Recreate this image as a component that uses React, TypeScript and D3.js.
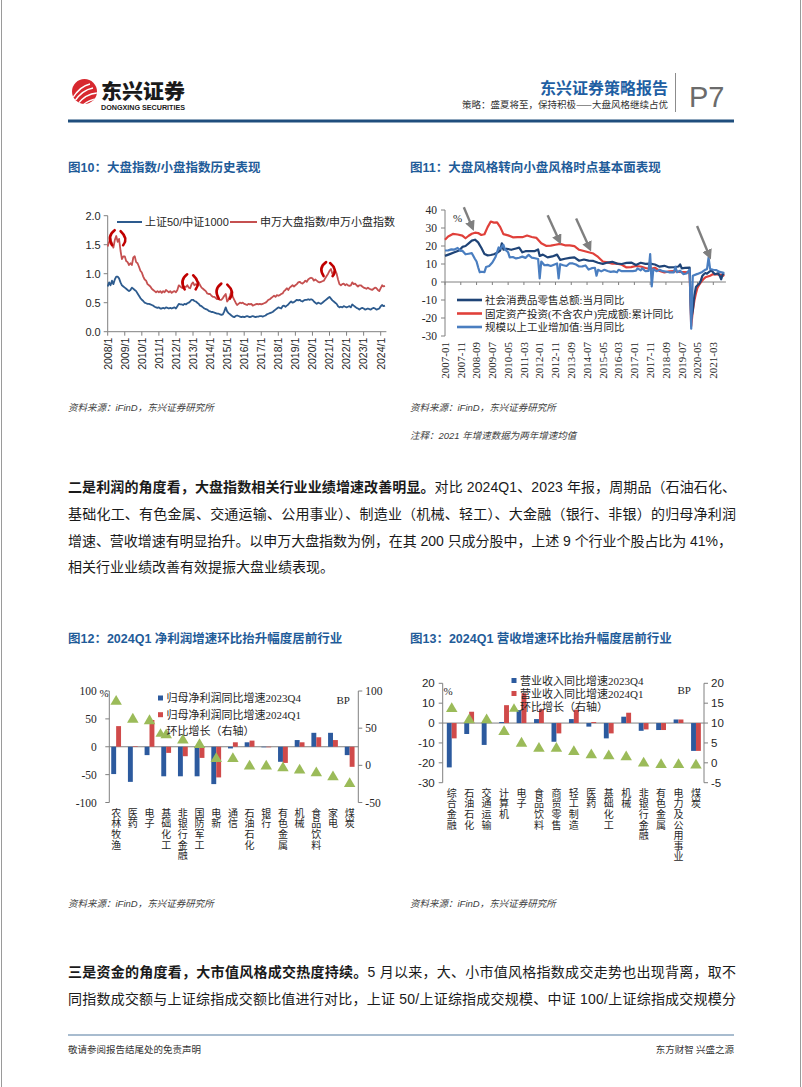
import React from "react";
import * as d3 from "d3";

const W = 802;
const H = 1087;

const CJK = "'Noto Sans CJK SC', sans-serif";
const SANS = "'Liberation Sans', Arial, 'Noto Sans CJK SC', sans-serif";
const SERIF = "'Liberation Serif', 'Times New Roman', 'Noto Sans CJK SC', serif";
const TITLE_BLUE = "#1f5c99";
const AXIS = "#808080";
const TXT = "#262626";

// ---------------- Fig10 data (monthly from 2008-01) ----------------
const fig10Start = "2008-01";
const fig10Ticks = ["2008/1","2009/1","2010/1","2011/1","2012/1","2013/1","2014/1","2015/1","2016/1","2017/1","2018/1","2019/1","2020/1","2021/1","2022/1","2023/1","2024/1"];
const fig10YTicks = [0, 0.5, 1, 1.5, 2];
const sz50Csi1000 = [
  0.78,0.85,0.80,0.88,0.82,0.90,0.95,0.95,0.92,0.85,0.80,0.78,
  0.76,0.74,0.72,0.70,0.72,0.76,0.74,0.72,0.70,0.66,0.62,0.58,
  0.55,0.53,0.50,0.49,0.48,0.48,0.47,0.46,0.45,0.43,0.42,0.41,
  0.42,0.40,0.40,0.41,0.40,0.42,0.41,0.40,0.41,0.40,0.41,0.42,
  0.40,0.44,0.48,0.47,0.47,0.46,0.48,0.47,0.49,0.50,0.52,0.55,
  0.55,0.53,0.52,0.50,0.48,0.45,0.44,0.42,0.40,0.39,0.38,0.36,
  0.35,0.34,0.34,0.33,0.32,0.31,0.31,0.30,0.29,0.30,0.35,0.42,
  0.35,0.32,0.30,0.28,0.26,0.25,0.27,0.28,0.27,0.26,0.25,0.26,
  0.25,0.26,0.27,0.26,0.25,0.26,0.27,0.26,0.25,0.26,0.26,0.27,
  0.27,0.26,0.27,0.28,0.30,0.31,0.32,0.33,0.34,0.36,0.38,0.40,
  0.42,0.41,0.40,0.44,0.45,0.43,0.45,0.47,0.50,0.52,0.50,0.51,
  0.53,0.55,0.54,0.55,0.53,0.52,0.54,0.55,0.55,0.56,0.55,0.56,
  0.55,0.52,0.50,0.48,0.50,0.49,0.48,0.50,0.52,0.54,0.56,0.58,
  0.60,0.57,0.54,0.52,0.50,0.48,0.44,0.42,0.43,0.42,0.44,0.43,
  0.42,0.43,0.44,0.42,0.47,0.45,0.43,0.41,0.40,0.38,0.40,0.41,
  0.40,0.38,0.39,0.40,0.39,0.38,0.40,0.41,0.40,0.38,0.39,0.40,
  0.44,0.46,0.44,0.45
];
const swLargeSmall = [
  1.47,1.55,1.60,1.52,1.45,1.58,1.65,1.55,1.60,1.40,1.25,1.30,
  1.30,1.22,1.20,1.15,1.18,1.15,1.28,1.30,1.20,1.18,1.12,1.05,
  1.02,0.95,0.90,0.88,0.82,0.80,0.78,0.74,0.72,0.70,0.68,0.70,
  0.68,0.70,0.67,0.70,0.68,0.72,0.70,0.68,0.70,0.67,0.69,0.70,
  0.68,0.72,0.80,0.78,0.76,0.75,0.78,0.77,0.80,0.76,0.75,0.82,
  0.85,0.80,0.82,0.80,0.85,0.80,0.76,0.74,0.72,0.70,0.66,0.65,
  0.65,0.62,0.60,0.60,0.58,0.56,0.56,0.55,0.55,0.58,0.62,0.65,
  0.52,0.55,0.62,0.70,0.60,0.55,0.50,0.46,0.48,0.50,0.49,0.50,
  0.48,0.47,0.46,0.48,0.47,0.48,0.45,0.46,0.47,0.48,0.47,0.48,
  0.47,0.48,0.49,0.50,0.52,0.55,0.56,0.58,0.60,0.62,0.60,0.63,
  0.62,0.63,0.65,0.66,0.70,0.72,0.75,0.72,0.76,0.78,0.80,0.78,
  0.80,0.82,0.85,0.86,0.84,0.83,0.85,0.88,0.86,0.90,0.92,0.93,
  0.92,0.88,0.90,0.88,0.86,0.85,0.86,0.87,0.88,0.92,0.96,1.00,
  1.05,1.08,1.00,1.02,1.06,1.00,0.90,0.82,0.80,0.82,0.83,0.80,
  0.82,0.80,0.79,0.80,0.85,0.82,0.83,0.80,0.78,0.80,0.80,0.78,
  0.76,0.75,0.74,0.76,0.74,0.73,0.72,0.74,0.76,0.75,0.72,0.70,
  0.75,0.80,0.78,0.79
];
const fig10Marks = [
  { date: "2008-08", value: 1.62, w: 6.5, h: 7.5 },
  { date: "2012-11", value: 0.86, w: 6.5, h: 7.5 },
  { date: "2014-11", value: 0.70, w: 6.5, h: 7.5 },
  { date: "2020-12", value: 1.08, w: 5.5, h: 7 },
];

// ---------------- Fig11 data ----------------
const fig11Start = "2007-01";
const fig11Ticks = ["2007-01","2007-11","2008-09","2009-07","2010-05","2011-03","2012-01","2012-11","2013-09","2014-07","2015-05","2016-03","2017-01","2017-11","2018-09","2019-07","2020-05","2021-03"];
const fig11YTicks = [40, 30, 20, 10, 0, -10, -20, -30];
const retailYoY: [string, number][] = [
  ["2007-01",14.5],["2007-04",15.5],["2007-07",16.5],["2007-10",17.5],["2007-12",19.5],["2008-02",20],["2008-04",21.5],["2008-06",23],["2008-08",23.5],["2008-10",22],["2008-11",20.5],["2008-12",19],
  ["2009-02",15.5],["2009-04",14.8],["2009-06",15],["2009-08",15.4],["2009-10",16.2],["2009-12",17.5],["2010-01",21.5],["2010-02",18],["2010-04",18.5],["2010-07",17.9],["2010-10",18.6],["2010-12",19.1],
  ["2011-02",16.5],["2011-04",17.1],["2011-07",17.2],["2011-10",17.2],["2011-12",18.1],["2012-01",14.5],["2012-03",15.2],["2012-06",13.7],["2012-09",14.2],["2012-12",15.2],
  ["2013-02",12.3],["2013-05",12.9],["2013-08",13.4],["2013-11",13.7],["2014-02",11.8],["2014-05",12.5],["2014-08",11.9],["2014-11",11.7],
  ["2015-02",10.7],["2015-05",10.1],["2015-08",10.8],["2015-11",11.2],["2016-02",10.2],["2016-05",10],["2016-08",10.6],["2016-11",10.8],
  ["2017-02",9.5],["2017-05",10.7],["2017-08",10.1],["2017-11",10.2],["2018-02",9.7],["2018-05",8.5],["2018-08",9],["2018-11",8.1],
  ["2019-02",8.2],["2019-05",8.6],["2019-06",9.8],["2019-07",7.6],["2019-09",7.8],["2019-12",8],
  ["2020-01",-20.5],["2020-02",-15.8],["2020-03",-7.5],["2020-04",-2.8],["2020-05",-1.8],["2020-06",-1.1],["2020-07",0.5],["2020-08",3.3],["2020-09",4.3],["2020-10",5],["2020-11",4.6],
  ["2021-01",6],["2021-02",6.3],["2021-04",4.3],["2021-06",4.9],["2021-07",3.6],["2021-08",1.5],["2021-09",4.4],["2021-10",4.6]
];
const faiYtd: [string, number][] = [
  ["2007-01",23.5],["2007-03",25.3],["2007-06",26.7],["2007-09",26.4],["2007-12",25.8],["2008-02",24.3],["2008-04",25.7],["2008-06",26.8],["2008-08",27.4],["2008-10",27.2],["2008-12",26.1],
  ["2009-02",26.5],["2009-04",30.5],["2009-06",33.6],["2009-08",33],["2009-10",33.1],["2009-12",30.5],["2010-02",26.6],["2010-05",25.9],["2010-08",24.8],["2010-11",24.9],
  ["2011-02",24.9],["2011-05",25.8],["2011-08",25],["2011-11",24.5],["2012-02",21.5],["2012-05",20.1],["2012-08",20.2],["2012-11",20.7],
  ["2013-02",21.2],["2013-05",20.4],["2013-08",20.3],["2013-11",19.9],["2014-02",17.9],["2014-05",17.2],["2014-08",16.5],["2014-11",15.8],
  ["2015-02",13.9],["2015-05",11.4],["2015-08",10.9],["2015-11",10.2],["2016-02",10.2],["2016-05",9.6],["2016-08",8.1],["2016-11",8.3],
  ["2017-02",8.9],["2017-05",8.6],["2017-08",7.8],["2017-11",7.2],["2018-02",7.9],["2018-05",6.1],["2018-08",5.3],["2018-11",5.9],
  ["2019-02",6.1],["2019-05",5.6],["2019-08",5.5],["2019-12",5.4],
  ["2020-01",-24.5],["2020-02",-16.1],["2020-03",-10.3],["2020-04",-6.3],["2020-05",-3.1],["2020-06",-1.6],["2020-07",-0.3],["2020-08",0.8],["2020-09",1.8],["2020-10",2.6],["2020-11",2.9],
  ["2021-01",3.5],["2021-03",4.4],["2021-05",4.2],["2021-07",4.1],["2021-09",3.8],["2021-10",3.3]
];
const industryYoY: [string, number][] = [
  ["2007-01",17.5],["2007-03",17.6],["2007-05",18.1],["2007-07",18],["2007-09",18.9],["2007-11",17.3],["2007-12",17.4],
  ["2008-02",15.4],["2008-04",15.7],["2008-06",16],["2008-08",12.8],["2008-09",11.4],["2008-10",8.2],["2008-11",5.4],["2008-12",5.7],
  ["2009-02",5.5],["2009-03",8.3],["2009-05",8.9],["2009-07",10.8],["2009-09",13.9],["2009-11",19.2],["2009-12",18.5],
  ["2010-02",20.7],["2010-03",18.1],["2010-05",16.5],["2010-06",13.7],["2010-08",13.9],["2010-10",13.1],["2010-12",13.5],
  ["2011-02",14.1],["2011-04",13.4],["2011-06",15.1],["2011-08",13.5],["2011-10",13.2],["2011-12",12.8],
  ["2012-01",2],["2012-02",11.4],["2012-04",9.3],["2012-06",9.5],["2012-08",8.9],["2012-10",9.6],["2012-12",10.3],
  ["2013-01",2],["2013-02",9.9],["2013-04",9.3],["2013-06",8.9],["2013-08",10.4],["2013-10",10.3],["2013-12",9.7],
  ["2014-02",8.6],["2014-04",8.7],["2014-06",9.2],["2014-08",6.9],["2014-10",7.7],["2014-12",7.9],
  ["2015-01",3.5],["2015-02",6.8],["2015-04",5.9],["2015-06",6.8],["2015-08",6.1],["2015-10",5.6],["2015-12",5.9],
  ["2016-02",5.4],["2016-03",6.8],["2016-05",6],["2016-07",6],["2016-09",6.1],["2016-12",6],
  ["2017-02",6.3],["2017-03",7.6],["2017-05",6.5],["2017-06",7.6],["2017-08",6],["2017-10",6.2],["2017-11",15.5],["2017-12",-2.5],
  ["2018-01",7.2],["2018-03",6],["2018-05",6.8],["2018-07",6],["2018-09",5.8],["2018-11",5.4],
  ["2019-02",5.3],["2019-03",8.5],["2019-04",5.4],["2019-06",6.3],["2019-08",4.4],["2019-10",4.7],["2019-12",6.9],
  ["2020-01",-25.9],["2020-02",3.5],["2020-05",4.5],["2020-08",5.6],["2020-10",6.9],["2020-11",7.1],["2020-12",13.5],
  ["2021-01",7.2],["2021-03",6.8],["2021-05",6.6],["2021-07",5.6],["2021-09",5.2],["2021-10",5]
];
const fig11Legend = ["社会消费品零售总额:当月同比", "固定资产投资(不含农户)完成额:累计同比", "规模以上工业增加值:当月同比"];
const fig11Arrows = [
  { date: "2008-06", value: 31, dx: -8, dy: -19 },
  { date: "2013-01", value: 23.7, dx: -11, dy: -24 },
  { date: "2014-08", value: 20, dx: -12.5, dy: -27.5 },
  { date: "2020-12", value: 15.6, dx: -11.5, dy: -28 },
];

// ---------------- Fig12 data ----------------
const fig12Cats = ["农林牧渔","医药","电子","基础化工","非银行金融","国防军工","电新","通信","石油石化","银行","有色金属","机械","食品饮料","家电","煤炭"];
const fig12Q4 = [-49,-63,-15,-53,-53,-53,-67,-3,8,-1,-27,12,25,25,-15];
const fig12Q1 = [37,1,48,-11,-17,-20,-55,8,11,-1,-29,8,17,12,-36];
const fig12Chg = [88,64,62,43,36,30,11,11,1,1,-1.5,-4.5,-8,-13.5,-22.5];
const fig12LeftTicks = [100, 50, 0, -50, -100];
const fig12RightTicks = [100, 50, 0, -50];
const fig12Legend = ["归母净利润同比增速2023Q4", "归母净利润同比增速2024Q1", "环比增长（右轴）"];

// ---------------- Fig13 data ----------------
const fig13Cats = ["综合金融","石油石化","交通运输","计算机","电子","食品饮料","商贸零售","轻工制造","医药","基础化工","机械","非银行金融","有色金属","电力及公用事业","煤炭"];
const fig13Q4 = [-22.3,-5.5,-11,0.5,6.5,2,-9.4,2,-1.8,-7.7,3.2,-3.9,-3.5,1.8,-14];
const fig13Q1 = [-7.7,5.7,0,9,15,7,-5.2,6.7,0.5,-5.2,5.2,-3.2,-3.5,1.8,-14];
const fig13Chg = [14,11.2,11.2,8.2,5.3,4,4,3.2,2.4,2.1,1.9,0.3,-0.1,-0.1,-0.2];
const fig13LeftTicks = [20, 10, 0, -10, -20, -30];
const fig13RightTicks = [20, 15, 10, 5, 0, -5];
const fig13Legend = ["营业收入同比增速2023Q4", "营业收入同比增速2024Q1", "环比增长（右轴）"];

const BAR_BLUE = "#2c5a9e";
const BAR_RED = "#d04a4a";
const TRI_GREEN = "#9bbb59";

function monthIdx(s: string, base: string) {
  const [y, m] = s.split("-").map(Number);
  const [by, bm] = base.split("-").map(Number);
  return (y - by) * 12 + (m - bm);
}

function Header() {
  return (
    <g>
      <defs>
        <clipPath id="logoClip"><circle cx={84.5} cy={91.5} r={12.5} /></clipPath>
      </defs>
      <circle cx={84.5} cy={91.5} r={12.5} fill="#d7282f" />
      <g clipPath="url(#logoClip)" stroke="#fff" fill="none" strokeWidth={1.4}>
        <path d="M72 99 Q80 86 90 84" />
        <path d="M74 102 Q82 90 93 88" />
        <path d="M77 105 Q85 94 97 93" />
        <path d="M80 108 Q88 99 99 99" />
      </g>
      <text x={101} y={99} fontFamily={CJK} fontWeight={900} fontSize={20.5} fill="#1a1a1a" textLength={84} lengthAdjust="spacingAndGlyphs">东兴证券</text>
      <text x={101} y={110} fontFamily={SANS} fontWeight={700} fontSize={6.6} fill="#1a1a1a" textLength={84} lengthAdjust="spacingAndGlyphs">DONGXING SECURITIES</text>
      <text x={668} y={94} textAnchor="end" fontFamily={CJK} fontWeight={700} fontSize={16} fill="#1f5fa3">东兴证券策略报告</text>
      <text x={668} y={108} textAnchor="end" fontFamily={CJK} fontSize={9.5} fill="#333">策略：盛夏将至，保持积极——大盘风格继续占优</text>
      <line x1={675.5} x2={675.5} y1={73} y2={112} stroke="#8c8c8c" strokeWidth={1} />
      <text x={689} y={107} fontFamily={SANS} fontSize={29} fill="#6b6b6b" fontWeight={300}>P7</text>
      <rect x={68} y={119.5} width={666} height={3} fill="#1f4e7d" />
    </g>
  );
}

function Fig10() {
  const x = d3.scaleLinear().domain([0, 192]).range([107.7, 380.7]);
  const y = d3.scaleLinear().domain([0, 2]).range([331.7, 215.7]);
  const line = d3.line<number>().x((_, i) => x(i)).y((d) => y(d));
  const fmt = d3.format(".1f");
  return (
    <g>
      <text x={68} y={171.5} fontFamily={SANS} fontWeight={700} fontSize={12.5} fill={TITLE_BLUE}>图10：大盘指数/小盘指数历史表现</text>
      <line x1={x(0)} x2={x(0)} y1={y(2)} y2={y(0)} stroke={AXIS} />
      <line x1={x(0)} x2={x(196)} y1={y(0)} y2={y(0)} stroke={AXIS} />
      {fig10YTicks.map((t) => (
        <g key={t}>
          <line x1={x(0) - 4} x2={x(0)} y1={y(t)} y2={y(t)} stroke={AXIS} />
          <text x={x(0) - 7} y={y(t) + 4} textAnchor="end" fontFamily={SANS} fontSize={11} fill={TXT}>{fmt(t)}</text>
        </g>
      ))}
      {fig10Ticks.map((t, i) => (
        <g key={t}>
          <line x1={x(i * 12)} x2={x(i * 12)} y1={y(0)} y2={y(0) + 4} stroke={AXIS} />
          <text transform={`translate(${x(i * 12) + 3.8},${y(0) + 6}) rotate(-90)`} textAnchor="end" fontFamily={SANS} fontSize={10.5} fill={TXT}>{t}</text>
        </g>
      ))}
      <path d={line(swLargeSmall) || ""} fill="none" stroke="#c55050" strokeWidth={1.8} strokeLinejoin="round" />
      <path d={line(sz50Csi1000) || ""} fill="none" stroke="#2d5b8e" strokeWidth={1.8} strokeLinejoin="round" />
      {fig10Marks.map((m, i) => {
        const cx = x(monthIdx(m.date, fig10Start));
        const cy = y(m.value);
        const l = `M${cx - m.w + 3.5},${cy - m.h} Q${cx - m.w - 4.5},${cy - m.h * 0.2} ${cx - m.w + 1},${cy + m.h}`;
        const r = `M${cx + m.w - 3.5},${cy - m.h + 1} Q${cx + m.w + 4.5},${cy + m.h * 0.1} ${cx + m.w - 1},${cy + m.h}`;
        return (
          <g key={i} fill="none" stroke="#c00000" strokeWidth={2.6} strokeLinecap="round">
            <path d={l} />
            <path d={r} />
          </g>
        );
      })}
      <line x1={117} x2={142} y1={222} y2={222} stroke="#2d5b8e" strokeWidth={2} />
      <text x={145} y={226} fontFamily={SANS} fontSize={11} fill={TXT}>上证50/中证1000</text>
      <line x1={230} x2={257} y1={222} y2={222} stroke="#c55050" strokeWidth={2} />
      <text x={260} y={226} fontFamily={SANS} fontSize={11} fill={TXT}>申万大盘指数/申万小盘指数</text>
      <text x={68} y={411} fontFamily={SANS} fontStyle="italic" fontSize={9.5} fill="#404040">资料来源：iFinD，东兴证券研究所</text>
    </g>
  );
}

function Fig11() {
  const x = d3.scaleLinear().domain([0, 170]).range([445, 713.3]);
  const y = d3.scaleLinear().domain([-30, 40]).range([336, 210]);
  const line = d3.line<[string, number]>().x((d) => x(monthIdx(d[0], fig11Start))).y((d) => y(d[1]));
  const colors = ["#1f4477", "#e0403a", "#4a7ec0"];
  const series = [faiYtd, retailYoY, industryYoY];
  const sColors = ["#e0403a", "#1f4477", "#4a7ec0"];
  return (
    <g>
      <defs>
        <marker id="arrowHead" viewBox="0 0 10 10" refX={7} refY={5} markerWidth={4.2} markerHeight={4.2} orient="auto">
          <path d="M0,0 L10,5 L0,10 z" fill="#7f7f7f" />
        </marker>
      </defs>
      <text x={410} y={171.5} fontFamily={SANS} fontWeight={700} fontSize={12.5} fill={TITLE_BLUE}>图11：大盘风格转向小盘风格时点基本面表现</text>
      <line x1={x(0)} x2={x(0)} y1={y(40)} y2={y(-30)} stroke={AXIS} />
      <line x1={x(0)} x2={x(178)} y1={y(0)} y2={y(0)} stroke={AXIS} />
      {fig11YTicks.map((t) => (
        <g key={t}>
          <line x1={x(0) - 4} x2={x(0)} y1={y(t)} y2={y(t)} stroke={AXIS} />
          <text x={x(0) - 8} y={y(t) + 4} textAnchor="end" fontFamily={SERIF} fontSize={11.5} fill={TXT}>{t}</text>
        </g>
      ))}
      {fig11Ticks.map((t) => {
        const xi = x(monthIdx(t, fig11Start));
        return (
          <g key={t}>
            <line x1={xi} x2={xi} y1={y(0)} y2={y(0) + 3} stroke={AXIS} />
            <text transform={`translate(${xi + 3.8},${y(-30) + 6}) rotate(-90)`} textAnchor="end" fontFamily={SERIF} fontSize={11} fill={TXT}>{t}</text>
          </g>
        );
      })}
      {series.map((s, i) => (
        <path key={i} d={line(s) || ""} fill="none" stroke={sColors[i]} strokeWidth={2.2} strokeLinejoin="round" />
      ))}
      <text x={453} y={222} fontFamily={SERIF} fontSize={11} fill={TXT}>%</text>
      {fig11Arrows.map((a, i) => {
        const tx = x(monthIdx(a.date, fig11Start));
        const ty = y(a.value);
        return <line key={i} x1={tx + a.dx} y1={ty + a.dy} x2={tx - a.dx * 0.1} y2={ty - a.dy * 0.1} stroke="#7f7f7f" strokeWidth={2.4} markerEnd="url(#arrowHead)" />;
      })}
      {fig11Legend.map((l, i) => (
        <g key={l}>
          <line x1={457} x2={482} y1={300 + i * 13.5} y2={300 + i * 13.5} stroke={colors[i]} strokeWidth={2.6} />
          <text x={485} y={304 + i * 13.5} fontFamily={SERIF} fontSize={10.5} fill={TXT}>{l}</text>
        </g>
      ))}
      <text x={410} y={411} fontFamily={SANS} fontStyle="italic" fontSize={9.5} fill="#404040">资料来源：iFinD，东兴证券研究所</text>
      <text x={410} y={439} fontFamily={SANS} fontStyle="italic" fontSize={9.5} fill="#404040">注释：2021 年增速数据为两年增速均值</text>
    </g>
  );
}

function Triangle({ cx, cy, s }: { cx: number; cy: number; s: number }) {
  const h = s * 0.85;
  return <path d={`M${cx},${cy - h / 2} L${cx + s / 2},${cy + h / 2} L${cx - s / 2},${cy + h / 2} Z`} fill={TRI_GREEN} />;
}

function BarChart(props: {
  left: number; right: number; top: number; bottom: number;
  cats: string[]; q4: number[]; q1: number[]; chg: number[];
  lDomain: [number, number]; rDomain: [number, number];
  lTicks: number[]; rTicks: number[]; tickFont: string; lGap: number;
  legend: string[]; legX: number; legY: number; legStep: number;
  pctX: number; pctY: number; bpX: number; bpY: number;
  labelTop: number; bandRange: [number, number];
}) {
  const p = props;
  const x = d3.scaleBand<string>().domain(p.cats).range(p.bandRange).padding(0);
  const yl = d3.scaleLinear().domain(p.lDomain).range([p.bottom, p.top]);
  const yr = d3.scaleLinear().domain(p.rDomain).range([p.bottom, p.top]);
  const bw = 4.9;
  return (
    <g>
      <line x1={p.left} x2={p.left} y1={p.top} y2={p.bottom} stroke={AXIS} />
      <line x1={p.right} x2={p.right} y1={p.top} y2={p.bottom} stroke={AXIS} />
      <line x1={p.left} x2={p.right} y1={yl(0)} y2={yl(0)} stroke={AXIS} />
      {p.lTicks.map((t) => (
        <g key={"l" + t}>
          <line x1={p.left - 4} x2={p.left} y1={yl(t)} y2={yl(t)} stroke={AXIS} />
          <text x={p.left - p.lGap} y={yl(t) + 4} textAnchor="end" fontFamily={p.tickFont} fontSize={11.5} fill={TXT}>{t}</text>
        </g>
      ))}
      {p.rTicks.map((t) => (
        <g key={"r" + t}>
          <line x1={p.right} x2={p.right + 4} y1={yr(t)} y2={yr(t)} stroke={AXIS} />
          <text x={p.right + 7} y={yr(t) + 4} textAnchor="start" fontFamily={p.tickFont} fontSize={11.5} fill={TXT}>{t}</text>
        </g>
      ))}
      {p.cats.map((c, i) => {
        const cx = (x(c) as number) + x.bandwidth() / 2;
        const b0 = yl(0);
        const yq4 = yl(p.q4[i]);
        const yq1 = yl(p.q1[i]);
        return (
          <g key={c}>
            <rect x={cx - bw} width={bw} y={Math.min(b0, yq4)} height={Math.abs(b0 - yq4)} fill={BAR_BLUE} />
            <rect x={cx} width={bw} y={Math.min(b0, yq1)} height={Math.abs(b0 - yq1)} fill={BAR_RED} />
          </g>
        );
      })}
      {p.cats.map((c, i) => {
        const cx = (x(c) as number) + x.bandwidth() / 2;
        return <Triangle key={"t" + c} cx={cx} cy={yr(p.chg[i])} s={11.5} />;
      })}
      {p.cats.map((c) => {
        const cx = (x(c) as number) + x.bandwidth() / 2;
        return (
          <text key={"lab" + c} x={cx} y={p.labelTop} fontFamily={CJK} fontSize={10} letterSpacing={0.6} fill={TXT}
            style={{ writingMode: "vertical-rl" }}>{c}</text>
        );
      })}
      <text x={p.pctX} y={p.pctY} fontFamily={SERIF} fontSize={11} fill={TXT}>%</text>
      <text x={p.bpX} y={p.bpY} fontFamily={SERIF} fontSize={11} fill={TXT}>BP</text>
      <rect x={p.legX} y={p.legY - 4.5} width={5} height={5} fill={BAR_BLUE} />
      <text x={p.legX + 8.5} y={p.legY + 2} fontFamily={SERIF} fontSize={11} fill={TXT}>{p.legend[0]}</text>
      <rect x={p.legX} y={p.legY + p.legStep - 4.5} width={5} height={5} fill={BAR_RED} />
      <text x={p.legX + 8.5} y={p.legY + p.legStep + 2} fontFamily={SERIF} fontSize={11} fill={TXT}>{p.legend[1]}</text>
      <text x={p.legX + 8.5} y={p.legY + 2 * p.legStep + 2} fontFamily={SERIF} fontSize={11} fill={TXT}>{p.legend[2]}</text>
      <Triangle cx={p.legX + 2.5} cy={p.legY + 2 * p.legStep - 1} s={10} />
    </g>
  );
}

function Fig12() {
  return (
    <g>
      <text x={68} y={643} fontFamily={SANS} fontWeight={700} fontSize={12.5} fill={TITLE_BLUE}>图12：2024Q1 净利润增速环比抬升幅度居前行业</text>
      <BarChart left={109.3} right={358.3} top={691} bottom={802.5} cats={fig12Cats} q4={fig12Q4} q1={fig12Q1} chg={fig12Chg}
        lDomain={[-100, 100]} rDomain={[-50, 100]} lTicks={fig12LeftTicks} rTicks={fig12RightTicks} tickFont={SERIF} lGap={12.5}
        legend={fig12Legend} legX={158} legY={700} legStep={16.7} pctX={99.5} pctY={697} bpX={336.5} bpY={704}
        labelTop={808} bandRange={[107.8, 358.0]} />
      <text x={68} y={907} fontFamily={SANS} fontStyle="italic" fontSize={9.5} fill="#404040">资料来源：iFinD，东兴证券研究所</text>
    </g>
  );
}

function Fig13() {
  return (
    <g>
      <text x={410} y={643} fontFamily={SANS} fontWeight={700} fontSize={12.5} fill={TITLE_BLUE}>图13：2024Q1 营收增速环比抬升幅度居前行业</text>
      <BarChart left={442.7} right={704} top={683.3} bottom={782.7} cats={fig13Cats} q4={fig13Q4} q1={fig13Q1} chg={fig13Chg}
        lDomain={[-30, 20]} rDomain={[-5, 20]} lTicks={fig13LeftTicks} rTicks={fig13RightTicks} tickFont={SANS} lGap={8}
        legend={fig13Legend} legX={511.5} legY={682.5} legStep={13} pctX={443.5} pctY={694.5} bpX={677.5} bpY={694}
        labelTop={788} bandRange={[443, 704.7]} />
      <text x={410} y={907} fontFamily={SANS} fontStyle="italic" fontSize={9.5} fill="#404040">资料来源：iFinD，东兴证券研究所</text>
    </g>
  );
}

function Body() {
  const fs = 14;
  return (
    <g fontFamily={SANS} fontSize={fs} fill="#1a1a1a">
      <text x={68} y={492} textLength={668} lengthAdjust="spacing">
        <tspan fontFamily={CJK} fontWeight={700}>二是利润的角度看，大盘指数相关行业业绩增速改善明显。</tspan>
        <tspan>对比 2024Q1、2023 年报，周期品（石油石化、</tspan>
      </text>
      <text x={68} y={519} textLength={668} lengthAdjust="spacing">基础化工、有色金属、交通运输、公用事业）、制造业（机械、轻工）、大金融（银行、非银）的归母净利润</text>
      <text x={68} y={546} textLength={664} lengthAdjust="spacing">增速、营收增速有明显抬升。以申万大盘指数为例，在其 200 只成分股中，上述 9 个行业个股占比为 41%，</text>
      <text x={68} y={572}>相关行业业绩改善有效提振大盘业绩表现。</text>
      <text x={68} y={977} textLength={668} lengthAdjust="spacing">
        <tspan fontFamily={CJK} fontWeight={700}>三是资金的角度看，大市值风格成交热度持续。</tspan>
        <tspan>5 月以来，大、小市值风格指数成交走势也出现背离，取不</tspan>
      </text>
      <text x={68} y={1004} textLength={668} lengthAdjust="spacing">同指数成交额与上证综指成交额比值进行对比，上证 50/上证综指成交规模、中证 100/上证综指成交规模分</text>
    </g>
  );
}

function Footer() {
  return (
    <g>
      <line x1={68} x2={734} y1={1035} y2={1035} stroke="#a8bccf" strokeWidth={2} />
      <text x={68} y={1053} fontFamily={CJK} fontSize={9.5} fill="#333">敬请参阅报告结尾处的免责声明</text>
      <text x={734} y={1053} textAnchor="end" fontFamily={CJK} fontSize={9.5} fill="#333">东方财智 兴盛之源</text>
    </g>
  );
}

export default function App() {
  return (
    <div style={{ position: "absolute", left: 0, top: 0, width: W, height: H, background: "#fff" }}>
      <svg width={W} height={H} viewBox={`0 0 ${W} ${H}`} style={{ display: "block" }}>
        <rect width={W} height={H} fill="#fff" />
        <line x1={1.5} x2={1.5} y1={0} y2={H} stroke="#9a9a9a" strokeWidth={1} />
        <line x1={800.5} x2={800.5} y1={0} y2={H} stroke="#9a9a9a" strokeWidth={1} />
        <Header />
        <Fig10 />
        <Fig11 />
        <Fig12 />
        <Fig13 />
        <Body />
        <Footer />
      </svg>
    </div>
  );
}
